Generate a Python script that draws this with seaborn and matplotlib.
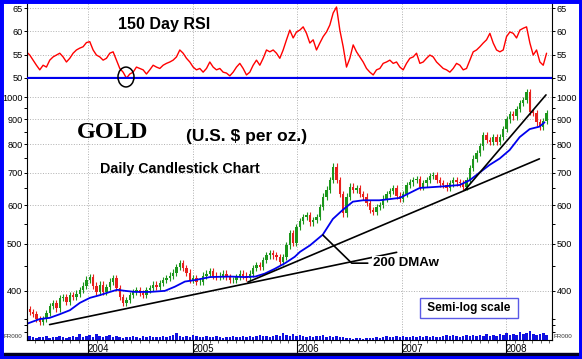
import numpy as np
import pandas as pd
import matplotlib
matplotlib.use('Agg')
import matplotlib.pyplot as plt
import matplotlib.dates as mdates
import matplotlib.ticker as mticker
from matplotlib.patches import Ellipse, Rectangle
import seaborn as sns

# gold closes, one every ~8 trading days (May 2003 - May 2008)
close_2003_04 = [367, 362, 358, 350, 346, 350, 360, 372, 378, 368, 387, 389, 379, 392, 389, 395,
                 402, 410, 422, 427]
close_2004_05 = [410, 398, 412, 398, 408, 418, 425, 406, 389, 378, 383, 392, 398, 402, 396, 392,
                 402, 406, 412, 408, 415, 421, 425, 430, 436, 448, 456, 446, 436, 421, 425, 418,
                 418, 430, 434, 440, 430, 427, 430, 434, 427, 421, 421, 427, 434, 430, 425, 434,
                 446, 451, 448, 463, 473, 478, 473, 470, 459, 470, 496, 526, 501, 541]
close_2006 = [557, 567, 572, 553, 560, 567, 595, 625, 646, 675, 720, 675, 632, 577, 625, 655,
              646, 651, 632, 625, 606, 587, 582, 595, 600]
close_2007_08 = [619, 632, 641, 651, 628, 619, 632, 660, 668, 675, 680, 655, 665, 675, 689, 693,
                 675, 665, 660, 651, 665, 675, 668, 665, 655, 675, 716, 748, 768, 792, 837, 818,
                 808, 828, 808, 828, 860, 900, 922, 913, 946, 972, 988, 1025, 933, 929, 888, 870,
                 893, 929]
closes = close_2003_04 + close_2004_05 + close_2006 + close_2007_08

# 150 day RSI on the same dates
rsi_2003_04 = [55.6, 54.9, 53.8, 52.7, 51.7, 52.7, 52.3, 53.8, 54.5, 54.9, 55.3, 54.5, 53.4, 54.2,
               55.3, 56.0, 56.4, 56.7, 57.6, 57.8, 56.0, 54.9, 54.5, 53.8, 54.2, 55.3, 55.6, 53.8,
               52.0, 51.2, 49.9, 50.8, 51.2, 52.3, 52.0, 51.7, 50.8, 51.7, 52.7, 52.3, 52.0, 52.7,
               53.1, 53.4, 53.8, 54.5, 56.0, 55.3, 54.2, 53.4, 52.3, 51.7]
rsi_2005_06 = [52.0, 51.2, 52.0, 53.4, 52.3, 51.7, 52.0, 51.2, 51.0, 50.4, 51.2, 52.3, 53.1, 52.0,
               50.6, 51.2, 52.7, 53.8, 52.7, 54.2, 56.0, 55.6, 56.0, 55.3, 54.2, 56.0, 58.2, 60.3,
               58.6, 59.9, 60.3, 61.0, 59.6, 57.5, 58.2, 56.0, 57.5, 58.9, 59.9, 61.4, 64.0, 65.3,
               60.3, 56.7, 52.3, 54.2, 57.1, 55.6, 54.5, 53.4, 52.0, 51.2, 50.6, 51.7, 52.0, 53.1,
               53.4, 53.8, 53.1, 53.4]
rsi_2007_08 = [52.3, 51.7, 53.1, 54.2, 54.5, 55.3, 53.1, 53.4, 54.2, 54.9, 54.5, 53.4, 52.7, 52.0,
               51.7, 51.2, 52.0, 53.1, 52.7, 51.7, 52.0, 53.8, 55.6, 56.0, 56.7, 57.5, 58.2, 59.6,
               57.5, 56.0, 55.6, 56.0, 58.9, 59.9, 59.6, 58.6, 60.3, 60.7, 61.0, 57.5, 54.9, 56.0,
               53.4, 52.7, 55.3]
rsi = rsi_2003_04 + rsi_2005_06 + rsi_2007_08

volume = [3, 4, 3, 2, 3, 3, 4, 2, 3, 3, 4, 3, 2, 3, 4, 3,
          6, 3, 4, 5, 3, 6, 4, 3,
          4, 5, 3, 4, 3, 2, 3, 3, 4, 3, 2, 4, 3, 4, 3, 3,
          3, 4, 3, 4, 5, 7, 4, 3, 4, 3, 5, 4, 3, 3, 4, 3,
          3, 4, 3, 2, 3, 3, 4, 3, 3, 4, 3, 4, 3, 4, 5, 4,
          4, 3, 4, 5, 4, 7, 5, 4, 6, 4, 5, 4, 3, 4, 3, 4,
          4, 5, 3, 4, 3, 4, 3, 3, 2, 2, 1, 2, 2, 1, 2, 2,
          2, 3, 2, 3, 4, 3, 3, 4, 3, 4, 3, 3, 4, 3, 4, 3,
          4, 3, 4, 3, 3, 4, 5, 4, 5, 4, 3, 4, 5, 4, 5, 4,
          5, 4, 6, 4, 5, 4, 6, 5, 7, 5, 6, 5, 8, 6, 7, 9, 6, 5, 6, 7, 5]

# 200 day weighted moving average
ma_dates = ['2003-05-31', '2003-07-16', '2003-08-20', '2003-09-24', '2003-10-30', '2003-12-04',
            '2004-01-08', '2004-02-12', '2004-03-18', '2004-04-12', '2004-05-10', '2004-06-14',
            '2004-08-05', '2004-09-26', '2004-10-31', '2004-12-05', '2005-01-10', '2005-03-03',
            '2005-05-12', '2005-07-02', '2005-08-08', '2005-09-10', '2005-10-15', '2005-11-20',
            '2005-12-24', '2006-01-11', '2006-02-15', '2006-04-01', '2006-05-06', '2006-06-10',
            '2006-07-15', '2006-08-19', '2006-10-16', '2006-12-26', '2007-03-06', '2007-05-15',
            '2007-07-23', '2007-08-27', '2007-10-01', '2007-11-05', '2007-12-10', '2008-01-14',
            '2008-02-18', '2008-03-24', '2008-04-27', '2008-05-15']
ma_values = [342, 350, 352, 358, 365, 378, 387, 392, 398, 402, 400, 398, 398, 400, 408, 418, 421,
             427, 428, 427, 428, 434, 444, 456, 470, 481, 496, 522, 562, 587, 610, 614, 614, 621,
             651, 655, 660, 675, 700, 726, 748, 779, 828, 860, 870, 888]

# hand drawn trend lines (date, price)
trend_long = (['2003-08-20', '2006-12-15'], [341, 480])
trend_mid = (['2005-07-13', '2008-04-27'], [417, 747])
trend_steep = (['2007-08-10', '2008-05-20'], [644, 1011])
pointer = (['2006-04-01', '2006-07-11', '2006-09-05'], [521, 456, 456])

price_ticks = [400, 500, 600, 700, 800, 900, 1000]
price_minor = [330, 340, 350, 450, 550, 650, 750, 850, 950]
rsi_ticks = [50, 55, 60, 65]
years = [2004, 2005, 2006, 2007, 2008]

dates = pd.date_range('2003-05-31', '2008-05-22', periods=len(closes))
df = pd.DataFrame({'date': dates, 'close': closes, 'rsi': rsi, 'volume': volume})
df['open'] = df['close'].shift(1).fillna(df['close'])
df['high'] = df[['open', 'close']].max(axis=1) * 1.015
df['low'] = df[['open', 'close']].min(axis=1) * 0.985
colors = np.where(df['close'] >= df['open'], '#1c961c', '#e8201c')

sns.set_theme(style='white')
plt.rcParams['font.family'] = ['Liberation Sans', 'DejaVu Sans']
plt.rcParams['text.color'] = 'black'

W, H = 582, 359
fig = plt.figure(figsize=(W / 100, H / 100), dpi=100)
left, width = 27 / W, 525 / W
ax_r = fig.add_axes([left, 1 - 79 / H, width, 77 / H])
ax_p = fig.add_axes([left, 1 - 340 / H, width, 261 / H], sharex=ax_r)
ax_v = fig.add_axes([left, 1 - 340 / H, width, 22 / H], sharex=ax_r)
ax_v.patch.set_visible(False)
ax_r.set_zorder(3)

grid_kw = dict(ls=':', color='#b0b0b0', lw=0.7)

# RSI panel
sns.lineplot(data=df, x='date', y='rsi', ax=ax_r, color='#ff0000', lw=1.0, estimator=None, sort=False)
ax_r.axhline(50, color='#0000ee', lw=1.6, zorder=5)
ax_r.set_ylim(49.72, 66.38)
ax_r.set_yticks(rsi_ticks)
ax_r.grid(True, axis='both', **grid_kw)
ax_r.add_patch(Ellipse((mdates.date2num(pd.Timestamp('2004-05-13')), 50.15), 56, 4.3,
                       fill=False, ec='black', lw=1.1, clip_on=False, zorder=6))

# price panel
ax_p.vlines(df['date'], df['low'], df['high'], colors=colors, lw=0.8)
ax_p.bar(df['date'], df['close'] - df['open'], bottom=df['open'], width=8, color=colors, linewidth=0)
sns.lineplot(x=pd.to_datetime(ma_dates), y=ma_values, ax=ax_p, color='#0000ee', lw=1.3,
             estimator=None, sort=False)
for xs, ys in [trend_long, trend_mid, trend_steep, pointer]:
    ax_p.plot(pd.to_datetime(xs), ys, color='black', lw=1.2)
ax_p.set_yscale('log')
ax_p.set_ylim(317, 1090)
ax_p.yaxis.set_major_locator(mticker.FixedLocator(price_ticks))
ax_p.yaxis.set_major_formatter(mticker.FixedFormatter([str(v) for v in price_ticks]))
ax_p.yaxis.set_minor_locator(mticker.FixedLocator(price_minor))
ax_p.yaxis.set_minor_formatter(mticker.NullFormatter())
ax_p.grid(True, axis='both', which='major', **grid_kw)

# volume strip
ax_v.bar(df['date'], df['volume'], width=9, color='#1010e0', linewidth=0)
ax_v.set_ylim(0, 22)
ax_v.set_yticks([])

for ax in (ax_r, ax_p):
    ax.set_xlabel('')
    ax.set_ylabel('')
    ax.tick_params(axis='y', which='both', left=True, right=True, labelleft=True, labelright=True,
                   direction='out', labelsize=6.6, pad=0.8, length=2.5, width=0.7, colors='black')
    ax.tick_params(axis='y', which='minor', length=2)
    ax.tick_params(axis='x', which='both', bottom=False, labelbottom=False)
    for s in ('left', 'right'):
        ax.spines[s].set_color('black')
        ax.spines[s].set_linewidth(0.8)
    ax.spines['top'].set_visible(False)
    ax.spines['bottom'].set_visible(False)
ax_p.tick_params(axis='y', which='minor', labelleft=False, labelright=False)

ax_v.set_xlim(pd.Timestamp('2003-06-02'), pd.Timestamp('2008-06-10'))
ax_v.set_xticks([pd.Timestamp(f'{y}-01-01') for y in years])
ax_v.set_xticklabels([str(y) for y in years], ha='left')
ax_v.xaxis.set_minor_locator(mdates.MonthLocator())
ax_v.tick_params(axis='x', which='major', bottom=True, length=9, width=0.8, direction='out',
                 labelsize=7, pad=-6, colors='black')
ax_v.tick_params(axis='x', which='minor', bottom=True, length=2, width=0.5, direction='out')
ax_v.set_xlabel('')
ax_v.set_ylabel('')
ax_v.spines['top'].set_visible(False)
for s in ('left', 'right', 'bottom'):
    ax_v.spines[s].set_color('black')
    ax_v.spines[s].set_linewidth(0.8)

# texts
fig.text(118 / W, 1 - 24 / H, '150 Day RSI', fontsize=11.5, fontweight='bold', va='center')
fig.text(113 / W, 1 - 132 / H, 'GOLD', fontsize=17.5, fontweight='bold', ha='center', va='center',
         family=['Liberation Serif', 'DejaVu Serif'])
fig.text(186 / W, 1 - 136 / H, '(U.S. $ per oz.)', fontsize=12.5, fontweight='bold', va='center')
fig.text(100 / W, 1 - 169 / H, 'Daily Candlestick Chart', fontsize=10.3, fontweight='bold', va='center')
fig.text(373 / W, 1 - 263 / H, '200 DMAw', fontsize=9.5, fontweight='bold', va='center',
         bbox=dict(facecolor='white', edgecolor='none', pad=1.0))
fig.text(469 / W, 1 - 308 / H, ' Semi-log scale ', fontsize=8.5, fontweight='bold', ha='center',
         va='center', bbox=dict(boxstyle='square,pad=0.35', facecolor='white', edgecolor='#5a5ae6', lw=1))
fig.text(4 / W, 1 - 336 / H, 'FR000', fontsize=4.5, va='center', color='#333333')
fig.text(554 / W, 1 - 336 / H, 'FR000', fontsize=4.5, va='center', color='#333333')

# frame
fig.patches.append(Rectangle((0, 0), 1, 6 / H, transform=fig.transFigure, color='#000022', zorder=0))
fig.patches.append(Rectangle((0, 0), 1, 1, transform=fig.transFigure, fill=False,
                             edgecolor='#0000ff', lw=5, zorder=10))

fig.savefig('out.png', dpi=100)
